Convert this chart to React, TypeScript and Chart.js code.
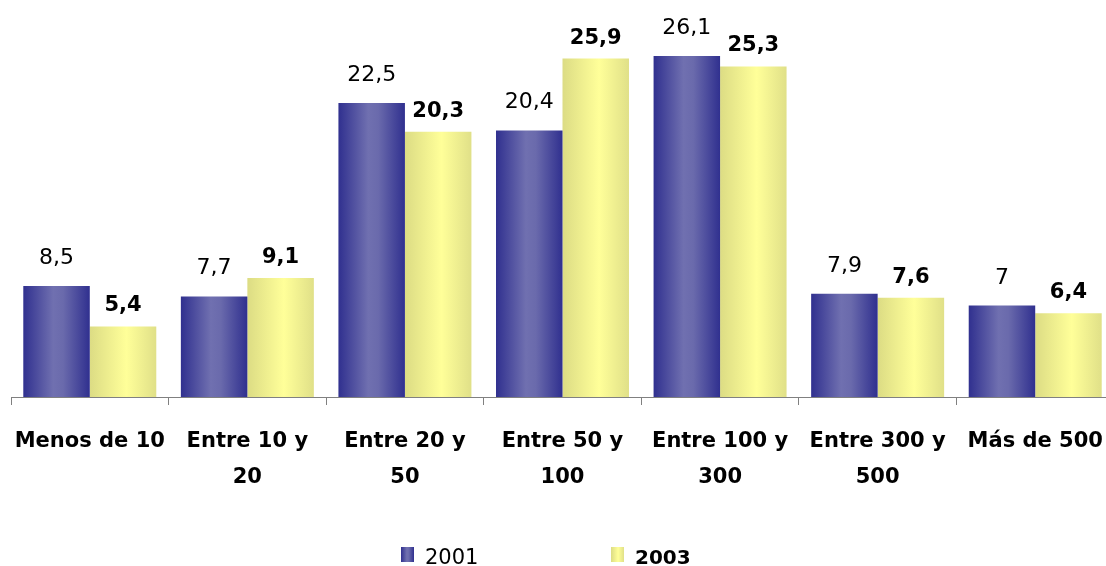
import React, { useEffect, useRef } from 'react';
import { Chart, registerables } from 'chart.js';

Chart.register(...registerables);

const categories: string[][] = [
  ['Menos de 10'],
  ['Entre 10 y', '20'],
  ['Entre 20 y', '50'],
  ['Entre 50 y', '100'],
  ['Entre 100 y', '300'],
  ['Entre 300 y', '500'],
  ['Más de 500'],
];
const seriesNames = ['2001', '2003'];
const values2001 = [8.5, 7.7, 22.5, 20.4, 26.1, 7.9, 7];
const values2003 = [5.4, 9.1, 20.3, 25.9, 25.3, 7.6, 6.4];

const CAT_PCT = 0.844;
const FONT = '"DejaVu Sans", sans-serif';

const blueStops: [number, string][] = [
  [0, '#30308f'],
  [0.45, '#7070b0'],
  [0.6, '#6a6aac'],
  [1, '#30308f'],
];
const yellowStops: [number, string][] = [
  [0, '#dcdc84'],
  [0.55, '#ffff99'],
  [1, '#e0e088'],
];

function linGrad(ctx: CanvasRenderingContext2D, x0: number, x1: number, stops: [number, string][]) {
  const g = ctx.createLinearGradient(x0, 0, x1, 0);
  stops.forEach(([o, c]) => g.addColorStop(o, c));
  return g;
}

function barGradient(stops: [number, string][], side: number) {
  return (c: any) => {
    const chart = c.chart;
    const xs = chart.scales && chart.scales.x;
    if (!xs || c.type !== 'data') return stops[1][1];
    const catW = (xs.right - xs.left) / categories.length;
    const center = xs.getPixelForValue(c.dataIndex);
    if (!Number.isFinite(catW) || !Number.isFinite(center) || catW <= 0) return stops[1][1];
    const bw = (catW * CAT_PCT) / 2;
    const start = side === 0 ? center - bw : center;
    return linGrad(chart.ctx, start, start + bw, stops);
  };
}

const fmt = (v: number) => String(v).replace('.', ',');

const valueLabels = {
  id: 'valueLabels',
  afterDatasetsDraw(chart: any) {
    const ctx = chart.ctx;
    ctx.save();
    ctx.fillStyle = '#000';
    ctx.textAlign = 'center';
    ctx.textBaseline = 'alphabetic';
    chart.data.datasets.forEach((ds: any, di: number) => {
      const meta = chart.getDatasetMeta(di);
      ctx.font = di === 0 ? `normal 22px ${FONT}` : `bold 21px ${FONT}`;
      const gap = di === 0 ? 22 : 15;
      meta.data.forEach((el: any, i: number) => {
        ctx.fillText(fmt(ds.data[i]), el.x, el.y - gap);
      });
    });
    ctx.restore();
  },
};

const customLegend = {
  id: 'customLegend',
  afterDraw(chart: any) {
    const ctx = chart.ctx;
    const x0 = 401;
    const step = 210;
    const boxW = 13;
    const boxH = 15;
    const boxTop = 547;
    const baseline = 564;
    ctx.save();
    seriesNames.forEach((name, i) => {
      const x = x0 + step * i;
      ctx.fillStyle = linGrad(ctx, x, x + boxW, i === 0 ? blueStops : yellowStops);
      ctx.fillRect(x, boxTop, boxW, boxH);
      ctx.fillStyle = '#000';
      ctx.textAlign = 'left';
      ctx.textBaseline = 'alphabetic';
      ctx.font = i === 0 ? `normal 21px ${FONT}` : `bold 20px ${FONT}`;
      ctx.fillText(name, x + 24, baseline);
    });
    ctx.restore();
  },
};

export default function App() {
  const ref = useRef<HTMLCanvasElement>(null);
  useEffect(() => {
    if (!ref.current) return;
    const chart = new Chart(ref.current, {
      type: 'bar',
      data: {
        labels: categories,
        datasets: [
          {
            label: seriesNames[0],
            data: values2001,
            backgroundColor: barGradient(blueStops, 0),
            categoryPercentage: CAT_PCT,
            barPercentage: 1,
          },
          {
            label: seriesNames[1],
            data: values2003,
            backgroundColor: barGradient(yellowStops, 1),
            categoryPercentage: CAT_PCT,
            barPercentage: 1,
          },
        ],
      },
      options: {
        animation: false,
        responsive: true,
        maintainAspectRatio: false,
        layout: { padding: { left: 11, right: 16, top: 5, bottom: 0 } },
        plugins: {
          legend: { display: false },
          tooltip: { enabled: false },
        },
        scales: {
          x: {
            z: 1,
            grid: {
              display: true,
              drawOnChartArea: false,
              drawTicks: true,
              tickLength: 8,
              color: '#808080',
              offset: true,
            },
            border: { display: true, color: '#808080', width: 1 },
            ticks: {
              color: '#000',
              padding: 18,
              maxRotation: 0,
              autoSkip: false,
              font: { family: FONT, size: 21, weight: 'bold', lineHeight: 1.72 },
            },
            afterFit: (scale: any) => {
              scale.height = 169;
              scale.paddingLeft = 0;
              scale.paddingRight = 0;
            },
          },
          y: {
            display: false,
            min: 0,
            max: 30,
          },
        },
      },
      plugins: [valueLabels, customLegend],
    });
    return () => chart.destroy();
  }, []);
  return (
    <div style={{ position: 'fixed', left: 0, top: 0, width: 1106, height: 566, overflow: 'hidden', background: '#fff' }}>
      <div style={{ position: 'relative', width: 1130, height: 566 }}>
        <canvas ref={ref} />
      </div>
    </div>
  );
}
